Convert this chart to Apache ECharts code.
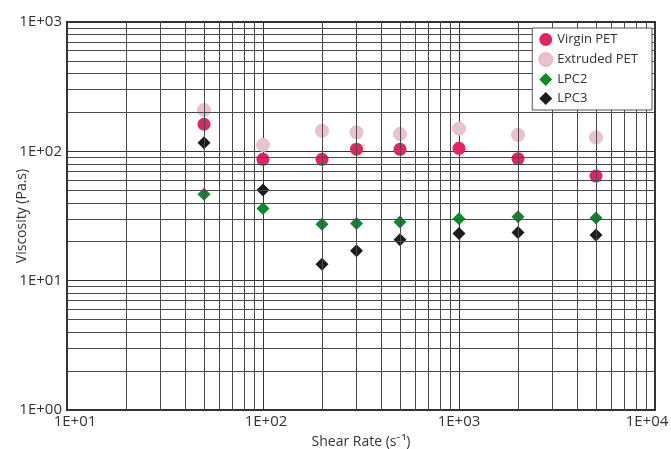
<!DOCTYPE html>
<html><head><meta charset="utf-8">
<script src="https://cdn.jsdelivr.net/npm/echarts@6/dist/echarts.min.js"></script>
<style>html,body{margin:0;padding:0;background:#fff}#c{width:671px;height:449px}</style>
</head><body><div id="c"></div>
<script>
const shearRates = [50, 100, 200, 300, 500, 1000, 2000, 5000];
const virginPET = [162, 86.7, 86.7, 104, 103.6, 105.5, 87.7, 64.4];
const extrudedPET = [209, 112, 144, 140, 136, 150, 134, 128];
const lpc2 = [46.5, 36.2, 27.3, 27.7, 28.4, 30.1, 31.2, 30.5];
const lpc3 = [116.6, 50.2, 13.4, 17.0, 20.7, 23.2, 23.6, 22.5];
const xDecades = [10, 100, 1000];
const yDecades = [1, 10, 100];
const minorMultipliers = [2, 3, 4, 5, 6, 7, 8, 9];

const FONT = "'Open Sans', sans-serif";
const fmt = v => { const e = Math.round(Math.log10(v)); return '1E+' + (e < 10 ? '0' : '') + e; };
const xfmt = v => {
  const e = Math.round(Math.log10(v));
  const s = fmt(v);
  if (e === 1) return '{f|' + s + '}';
  if (e === 2) return '{s|' + s + '}';
  if (e === 4) return '{l|' + s + '}';
  return '{m|' + s + '}';
};
const pair = arr => shearRates.map((x, i) => [x, arr[i]]);
const lab = { fontFamily: FONT, fontSize: 15, color: '#333' };

const gridLines = [];
xDecades.forEach(d => minorMultipliers.forEach(m => gridLines.push({ xAxis: d * m })));
yDecades.forEach(d => minorMultipliers.forEach(m => gridLines.push({ yAxis: d * m })));

const chart = echarts.init(document.getElementById('c'), null, { renderer: 'canvas' });
chart.setOption({
  animation: false,
  textStyle: { fontFamily: FONT },
  grid: { left: 67, right: 16, top: 22, bottom: 39, containLabel: false, outerBoundsMode: 'none',
    show: true, borderColor: '#333', borderWidth: 2, backgroundColor: 'transparent' },
  legend: {
    orient: 'vertical', right: 19, top: 28, z: 20, zlevel: 1,
    backgroundColor: '#ffffff', borderColor: '#555', borderWidth: 1,
    padding: [5, 14, 5, 6], itemGap: 6, itemWidth: 13, itemHeight: 13,
    textStyle: { fontFamily: FONT, fontSize: 13, color: '#333' },
    data: ['Virgin PET', 'Extruded PET', 'LPC2', 'LPC3']
  },
  xAxis: {
    type: 'log', logBase: 10, min: 10, max: 10000,
    name: 'Shear Rate (s\u207B\u00B9)', nameLocation: 'middle', nameGap: 25, nameMoveOverlap: false,
    nameTextStyle: { fontFamily: FONT, fontSize: 14, color: '#333' },
    axisLine: { show: true, lineStyle: { color: '#333', width: 2 } },
    axisTick: { show: false },
    axisLabel: Object.assign({ formatter: xfmt, margin: 4, hideOverlap: false,
      rich: {
        f: Object.assign({ padding: [0, 0, 0, 16] }, lab),
        s: Object.assign({ padding: [0, 0, 0, 6] }, lab),
        m: Object.assign({}, lab),
        l: Object.assign({ padding: [0, 16, 0, 0] }, lab)
      } }, lab),
    splitLine: { show: true, lineStyle: { color: '#333', width: 1 } }
  },
  yAxis: {
    type: 'log', logBase: 10, min: 1, max: 1000,
    name: 'Viscosity (Pa.s)', nameLocation: 'middle', nameGap: 38, nameMoveOverlap: false,
    nameTextStyle: { fontFamily: FONT, fontSize: 14, color: '#333' },
    axisLine: { show: true, lineStyle: { color: '#333', width: 2 } },
    axisTick: { show: false },
    axisLabel: Object.assign({ formatter: fmt, margin: 5 }, lab),
    splitLine: { show: true, lineStyle: { color: '#333', width: 1 } }
  },
  series: [
    {
      name: '_grid', type: 'line', data: [], z: 1, silent: true,
      markLine: {
        silent: true, symbol: ['none', 'none'], label: { show: false },
        lineStyle: { color: '#4a4a4a', width: 1, type: 'solid' },
        emphasis: { disabled: true },
        data: gridLines
      }
    },
    { name: 'Virgin PET', type: 'scatter', symbol: 'circle', symbolSize: 13, z: 4, data: pair(virginPET),
      itemStyle: { color: '#e2245f', opacity: 1 } },
    { name: 'Extruded PET', type: 'scatter', symbol: 'circle', symbolSize: 13, z: 3, data: pair(extrudedPET),
      itemStyle: { color: '#e6c3d1', borderColor: '#efb8c6', borderWidth: 1, opacity: 1 } },
    { name: 'LPC2', type: 'scatter', symbol: 'diamond', symbolSize: 13, z: 4, data: pair(lpc2),
      itemStyle: { color: '#0b8a2c', opacity: 1 } },
    { name: 'LPC3', type: 'scatter', symbol: 'diamond', symbolSize: 13, z: 4, data: pair(lpc3),
      itemStyle: { color: '#1c1c1c', opacity: 1 } }
  ]
});
</script></body></html>
